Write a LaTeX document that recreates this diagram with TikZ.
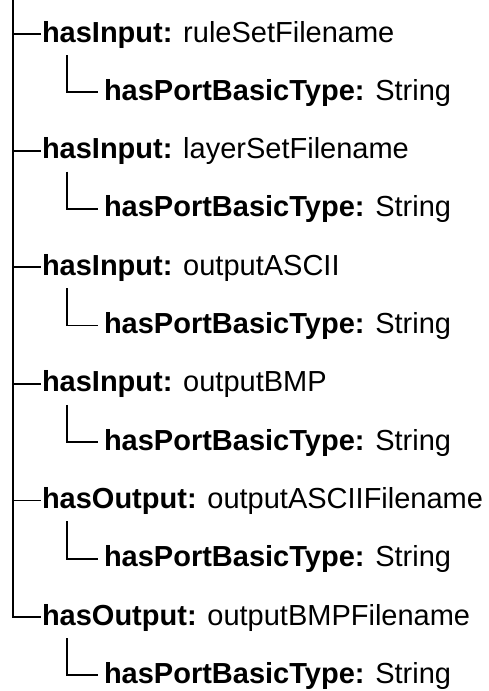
\documentclass[tikz,border=0pt]{standalone}
\usepackage{fontspec}
\setmainfont{Liberation Sans}
\begin{document}
\begin{tikzpicture}[x=1pt,y=-1pt,
  every node/.style={inner sep=0pt, outer sep=0pt, anchor=west,
    font=\fontsize{29}{34}\selectfont, text height=21pt, text depth=5pt},
  tree/.style={line width=1.8pt, black},
  branch/.style={tree}
]
\useasboundingbox (0,0) rectangle (488,691);
\coordinate (root) at (13,-2);

% top-level properties
\node (p1) at (42,34)    {\textbf{hasInput:} ruleSetFilename};
\node (p2) at (42,150.6) {\textbf{hasInput:} layerSetFilename};
\node (p3) at (42,267.2) {\textbf{hasInput:} outputASCII};
\node (p4) at (42,383.8) {\textbf{hasInput:} outputBMP};
\node (p5) at (42,500.4) {\textbf{hasOutput:} outputASCIIFilename};
\node (p6) at (42,617)   {\textbf{hasOutput:} outputBMPFilename};

% port types
\foreach \i/\y in {1/92.3,2/208.9,3/325.5,4/442.1,5/558.7,6/675.3}{
  \node (t\i) at (104,\y) {\textbf{hasPortBasicType:} String};
}

% main trunk and branches
\foreach \i in {1,...,6}{
  \draw[tree] (root) |- ([xshift=-1.5pt]p\i.west);
}
% sub-branches
\foreach \i in {1,...,6}{
  \draw[branch] ([shift={(25pt,-21pt)}]p\i.west) |- ([xshift=-6pt]t\i.west);
}
\end{tikzpicture}
\end{document}
